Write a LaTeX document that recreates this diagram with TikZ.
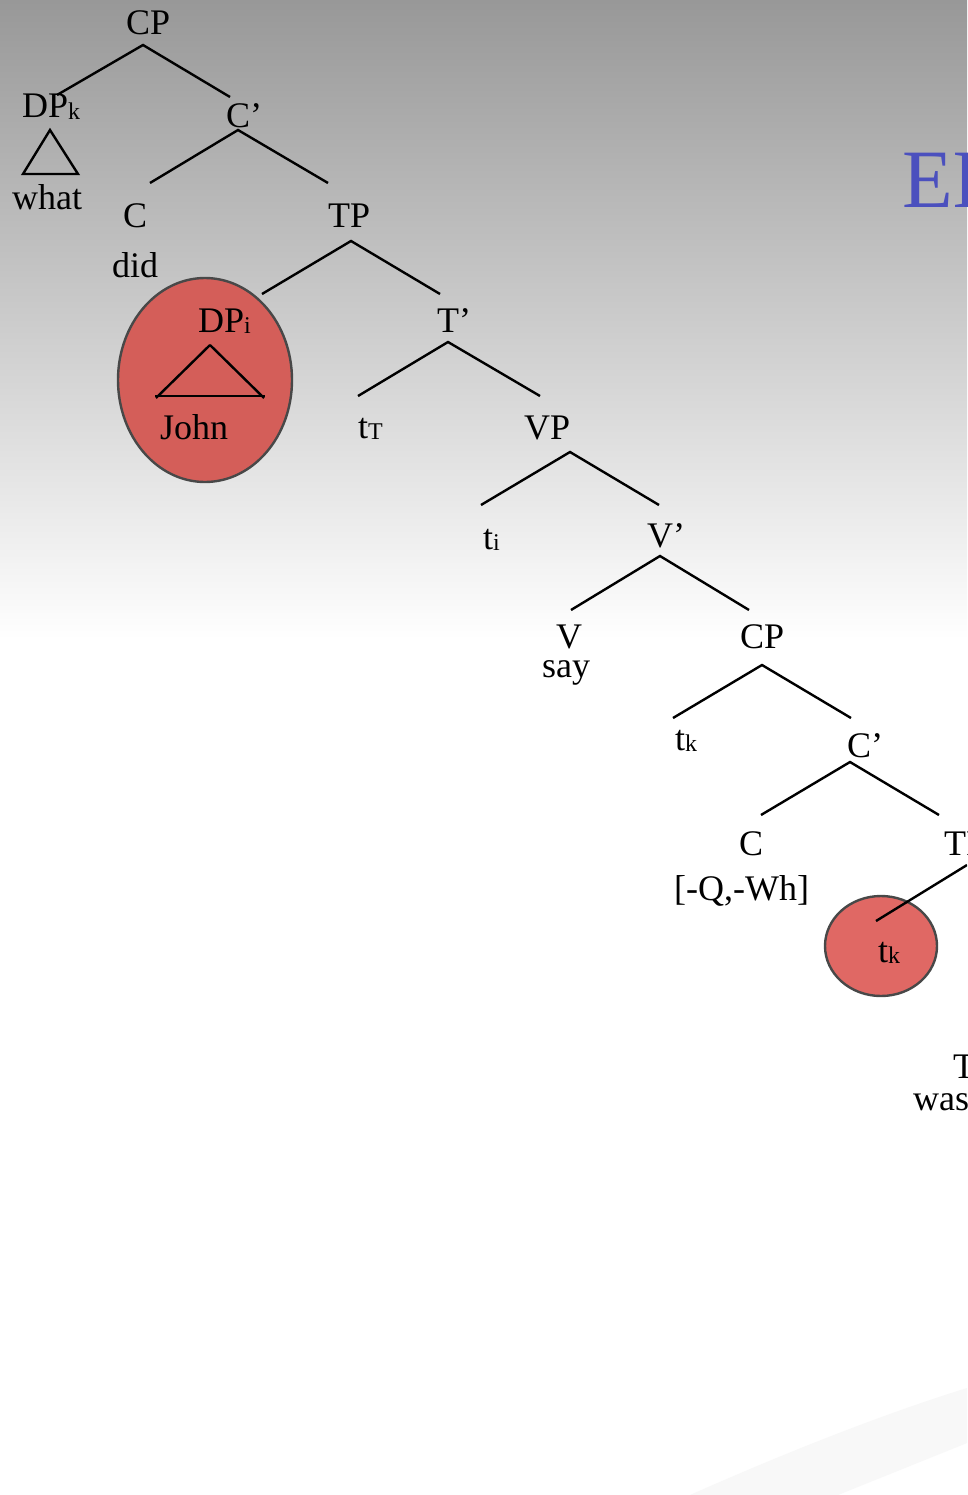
\documentclass[tikz,border=0pt]{standalone}
\usepackage{fontspec}
\setmainfont{Liberation Serif}
\newcommand\lblfont{\fontsize{36}{36}\selectfont}
\newcommand\subsc[1]{\raisebox{-1.5pt}{\fontsize{24}{24}\selectfont #1}}
\definecolor{bgtop}{RGB}{152,152,152}
\definecolor{swoosh}{RGB}{248,248,248}
\definecolor{bigred}{RGB}{212,94,89}
\definecolor{smallred}{RGB}{224,104,100}
\definecolor{rim}{RGB}{72,72,72}
\definecolor{titleblue}{RGB}{75,80,190}
\begin{document}
\begin{tikzpicture}[x=1pt,y=-1pt,
  lab/.style={font=\lblfont, inner sep=0pt, anchor=base west, text=black},
  branch/.style={line width=2.4pt, black},
  circ/.style={draw=rim, line width=2.4pt}]
\useasboundingbox (0,0) rectangle (967,1495);
\clip (0,0) rectangle (967,1495);
% background
\fill[white] (0,0) rectangle (967,1495);
\shade[top color=bgtop, bottom color=white] (0,0) rectangle (967,640);
\fill[swoosh] (690,1495) .. controls (780,1455) and (880,1415) .. (967,1388)
  -- (967,1443) .. controls (920,1462) and (880,1478) .. (838,1495) -- cycle;
% title fragment
\node[inner sep=0pt, anchor=base west, text=titleblue, font=\fontsize{83}{83}\selectfont] (title) at (902,208) {EI};
% circles
\draw[circ, fill=bigred] (205,380) ellipse [x radius=87, y radius=102];
\draw[circ, fill=smallred] (881,946) ellipse [x radius=56, y radius=50];
% labels
\node[lab] (cp1) at (126,35) {CP};
\node[lab] (dpk) at (22,118) {DP\subsc{k}};
\node[lab] (what) at (12,210) {what};
\node[lab] (cbar1) at (226,128) {C’};
\node[lab] (c1) at (123,228) {C};
\node[lab] (did) at (112,278) {did};
\node[lab] (tp1) at (328,228) {TP};
\node[lab] (dpi) at (198,332) {DP\subsc{i}};
\node[lab] (john) at (160,439) {John};
\node[lab] (tbar) at (437,332) {T’};
\node[lab] (tt) at (358,438) {t\subsc{T}};
\node[lab] (vp) at (524,439) {VP};
\node[lab] (ti) at (483,549) {t\subsc{i}};
\node[lab] (vbar) at (647,547) {V’};
\node[lab] (v) at (556,648) {V};
\node[lab] (say) at (542,677) {say};
\node[lab] (cp2) at (740,648) {CP};
\node[lab] (tk1) at (675,750) {t\subsc{k}};
\node[lab] (cbar2) at (847,757) {C’};
\node[lab] (c2) at (739,855) {C};
\node[lab] (feat) at (674,900) {[-Q,-Wh]};
\node[lab] (tp2) at (944,855) {TP};
\node[lab] (tk2) at (878,962) {t\subsc{k}};
\node[lab] (t2) at (953,1078) {T};
\node[lab] (was) at (913,1110) {was};
% branch end points
\coordinate (cp1a) at (143,45);   \coordinate (cp1l) at (57,95);   \coordinate (cp1r) at (230,97);
\coordinate (cb1a) at (238,130);  \coordinate (cb1l) at (150,183); \coordinate (cb1r) at (328,183);
\coordinate (tp1a) at (351,241);  \coordinate (tp1l) at (262,294); \coordinate (tp1r) at (440,294);
\coordinate (tba) at (448,342);   \coordinate (tbl) at (358,396);  \coordinate (tbr) at (540,396);
\coordinate (vpa) at (570,452);   \coordinate (vpl) at (481,505);  \coordinate (vpr) at (659,505);
\coordinate (vba) at (660,556);   \coordinate (vbl) at (571,610);  \coordinate (vbr) at (749,610);
\coordinate (cp2a) at (762,665);  \coordinate (cp2l) at (673,718); \coordinate (cp2r) at (851,718);
\coordinate (cb2a) at (850,762);  \coordinate (cb2l) at (761,815); \coordinate (cb2r) at (939,815);
\coordinate (tp2a) at (967,865);  \coordinate (tp2l) at (876,921);
\draw[branch] (cp1l) -- (cp1a) -- (cp1r);
\draw[branch] (cb1l) -- (cb1a) -- (cb1r);
\draw[branch] (tp1l) -- (tp1a) -- (tp1r);
\draw[branch] (tbl) -- (tba) -- (tbr);
\draw[branch] (vpl) -- (vpa) -- (vpr);
\draw[branch] (vbl) -- (vba) -- (vbr);
\draw[branch] (cp2l) -- (cp2a) -- (cp2r);
\draw[branch] (cb2l) -- (cb2a) -- (cb2r);
\draw[branch] (tp2a) -- (tp2l);
% triangles
\draw[branch, line join=miter] (50,130) -- (23,174) -- (78,174) -- cycle;
\draw[branch] (210,345) -- (156,398);
\draw[branch] (210,345) -- (264,398);
\draw[branch] (155,396) -- (265,396);
\end{tikzpicture}
\end{document}
